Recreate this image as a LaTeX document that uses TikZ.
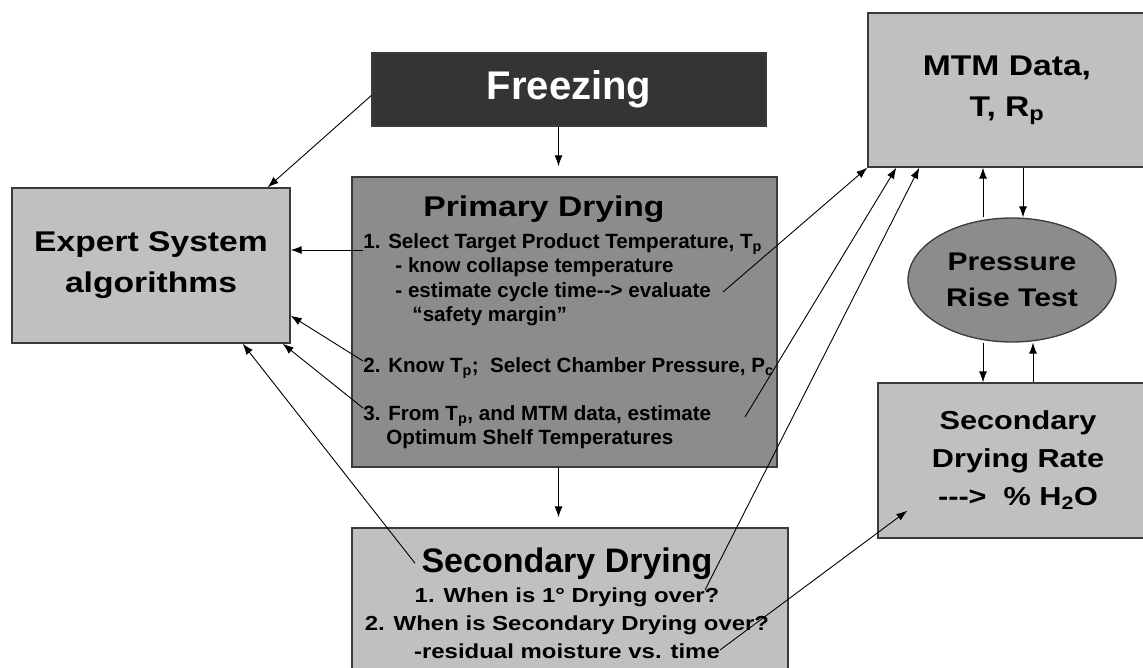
\documentclass[tikz,border=0pt]{standalone}
\usepackage{fontspec}
\setmainfont{Liberation Sans}
\newfontfamily\widesf[FakeStretch=1.18]{Liberation Sans}
\usetikzlibrary{arrows.meta,shapes.geometric}

\definecolor{boxgray}{RGB}{192,192,192}
\definecolor{midgray}{RGB}{140,140,140}
\definecolor{darkfill}{RGB}{52,52,52}
\definecolor{edgegray}{RGB}{58,58,58}

\newcommand{\frzfont}{\bfseries\fontsize{40}{48}\selectfont}
\newcommand{\headfont}{\widesf\bfseries\fontsize{28.5}{41}\selectfont}
\newcommand{\ovalfont}{\widesf\bfseries\fontsize{25.5}{36}\selectfont}
\newcommand{\ratefont}{\widesf\bfseries\fontsize{26}{38}\selectfont}
\newcommand{\sdfont}{\bfseries\fontsize{34}{40}\selectfont}
\newcommand{\itemfont}{\bfseries\fontsize{20.6}{24.5}\selectfont}
\newcommand{\sditemfont}{\widesf\bfseries\fontsize{20.3}{28}\selectfont}

\tikzset{
  block/.style={draw=edgegray,line width=1.3pt,fill=boxgray,inner sep=0pt},
  oval/.style={ellipse,draw=edgegray,line width=1.3pt,fill=midgray,inner sep=0pt},
  steptext/.style={anchor=north west,align=left,font=\itemfont}
}

\begin{document}
\begin{tikzpicture}[x=1pt,y=-1pt,>={Latex[length=11pt,width=8pt]},line width=0.9pt,every node/.style={inner sep=0pt}]

\useasboundingbox (0,0) rectangle (1143,668);
\clip (0,0) rectangle (1143,668);

% boxes
\node[block,fill=darkfill,text=white,font=\frzfont,minimum width=394pt,minimum height=73pt] (frz) at (569,89.5) {Freezing};
\node[block,align=center,font=\headfont,minimum width=278pt,minimum height=155pt] (ex) at (151,265.5) {Expert System\\algorithms};
	\node[block,fill=midgray,minimum width=425pt,minimum height=290pt] (pd) at (564.5,322) {};
	\node[block,minimum width=436pt,minimum height=172pt] (sd) at (570,614) {};
\node[block,align=center,font=\headfont,minimum width=278pt,minimum height=154pt] (mtm) at (1007,90) {MTM Data,\\T, R\textsubscript{p}};
	\node[oval,align=center,font=\ovalfont,minimum width=208pt,minimum height=124pt] (prt) at (1012,280) {Pressure\\Rise Test};
\node[block,align=center,font=\ratefont,minimum width=280pt,minimum height=155pt] (sdr) at (1018,460.5) {Secondary\\Drying Rate\\-{}-{}->\ \ \% H\textsubscript{2}O};

% primary drying text
\node[anchor=base,font=\headfont] (pdt) at (544,217) {Primary Drying};
\node[steptext] (pd1) at (363,233) {1. Select Target Product Temperature, T\textsubscript{p}\\
	\hspace*{32pt}- know collapse temperature\\
	\hspace*{32pt}- estimate cycle time-{}-> evaluate\\
	\hspace*{49pt}``safety margin''};
\node[steptext] (pd2) at (363,357) {2. Know T\textsubscript{p};\ \ Select Chamber Pressure, P\textsubscript{c}};
\node[steptext] (pd3) at (363,405) {3. From T\textsubscript{p}, and MTM data, estimate\\
	\hspace*{23pt}Optimum Shelf Temperatures};

% secondary drying text
\node[anchor=base,font=\sdfont] (sdt) at (567,572) {Secondary Drying};
\node[anchor=north,align=center,font=\sditemfont] (sdi) at (567,587) {1. When is 1° Drying over?\\2. When is Secondary Drying over?\\-residual moisture vs. time};

\coordinate (e1) at (723,292);
\coordinate (e3) at (745,417);
\coordinate (e4) at (705,590);
\coordinate (e5) at (720,650);
\coordinate (p1) at ([yshift=-17pt]pd1.north west);

\path[->] ([yshift=-6pt]frz.west) edge ([xshift=-23pt]ex.north east)
		(p1) edge (p1 -| ex.east)
	([yshift=-4pt]pd2.north west) edge ([yshift=28pt]ex.south east)
	([yshift=-3pt]pd3.north west) edge ([xshift=-8pt]ex.south east)
		([xshift=-6pt]sdt.west) edge ([xshift=-48pt]ex.south east);

\path[->] (e1) edge (mtm.south west)
		(e3) edge ([xshift=29pt]mtm.south west)
		(e4) edge ([xshift=52pt]mtm.south west)
	(e5) edge ([xshift=30pt,yshift=28pt]sdr.south west);

\path[->,shorten >=10pt] ([xshift=-6pt]pd.north |- frz.south) edge ([xshift=-6pt]pd.north)
		([xshift=-6pt]pd.south) edge ([xshift=-6pt]pd.south |- sd.north);

\path[->] ([xshift=-29pt]prt.north) edge ([xshift=-29pt]prt.north |- mtm.south)
		([xshift=11pt]prt.north |- mtm.south) edge ([xshift=11pt]prt.north)
	([xshift=-29pt]prt.south) edge ([xshift=-29pt]prt.south |- sdr.north)
		([xshift=21pt]prt.south |- sdr.north) edge ([xshift=21pt]prt.south);

\end{tikzpicture}
\end{document}
